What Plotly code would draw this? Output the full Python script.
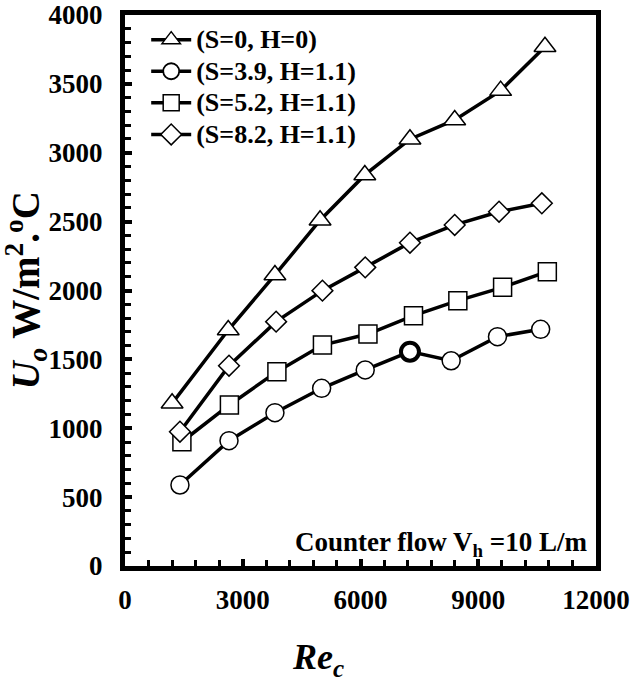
import plotly.graph_objects as go

# Data
re_s0 = [1200, 2630, 3820, 4970, 6110, 7260, 8400, 9570, 10700]
u_s0 = [1181, 1713, 2113, 2510, 2839, 3098, 3238, 3451, 3770]

re_s39 = [1400, 2650, 3820, 5010, 6120, 7260, 8310, 9490, 10590]
u_s39 = [588, 910, 1113, 1290, 1423, 1556, 1490, 1665, 1718]

re_s52 = [1450, 2660, 3870, 5030, 6190, 7350, 8480, 9620, 10760]
u_s52 = [902, 1169, 1411, 1604, 1684, 1817, 1926, 2023, 2137]

re_s82 = [1400, 2650, 3850, 5030, 6120, 7260, 8400, 9530, 10620]
u_s82 = [975, 1454, 1774, 1999, 2168, 2347, 2476, 2572, 2633]

names = ["(S=0, H=0)", "(S=3.9, H=1.1)", "(S=5.2, H=1.1)", "(S=8.2, H=1.1)"]
x_ticks = [0, 3000, 6000, 9000, 12000]
y_ticks = [0, 500, 1000, 1500, 2000, 2500, 3000, 3500, 4000]

FONT = "Liberation Serif"

fig = go.Figure()

series = [
    (re_s0, u_s0, "triangle-up", 19, 1.5),
    (re_s39, u_s39, "circle", 18, [1.5, 1.5, 1.5, 1.5, 1.5, 4, 1.5, 1.5, 1.5]),
    (re_s52, u_s52, "square", 18, 1.5),
    (re_s82, u_s82, "diamond", 16, 1.5),
]
for (xs, ys, sym, sz, lw), nm in zip(series, names):
    fig.add_trace(go.Scatter(
        x=xs, y=ys, mode="lines+markers",
        name='<span style="font-size:26px"><b>' + nm + "</b></span>",
        line=dict(color="black", width=3.5),
        marker=dict(symbol=sym, size=sz, color="white",
                    line=dict(color="black", width=lw)),
    ))

axis_common = dict(
    showgrid=False, zeroline=False, automargin=False,
    showline=True, linecolor="black", linewidth=5, mirror=True,
    ticks="inside", ticklen=7, tickwidth=3.5, tickcolor="black",
    tickfont=dict(family=FONT, size=27, color="black", weight="bold"),
)

fig.update_xaxes(
    range=[0, 12000], tickvals=x_ticks, ticktext=["<b>%d</b>" % v for v in x_ticks],
    minor=dict(dtick=600, ticks="inside", ticklen=6, tickwidth=3, tickcolor="black"),
    ticklabelstandoff=6,
    **axis_common,
)
fig.update_yaxes(
    range=[0, 4000], tickvals=y_ticks, ticktext=["<b>%d</b>" % v for v in y_ticks],
    minor=dict(dtick=100, ticks="inside", ticklen=6, tickwidth=3, tickcolor="black"),
    ticklabelstandoff=12,
    **axis_common,
)

fig.update_layout(
    width=637, height=691,
    margin=dict(l=125, r=41, t=15, b=125),
    paper_bgcolor="white", plot_bgcolor="white",
    showlegend=True,
    legend=dict(
        x=0.045, y=0.993, xanchor="left", yanchor="top",
        bgcolor="rgba(0,0,0,0)",
        font=dict(family=FONT, size=22, color="black", weight="bold"),
        itemwidth=40,
    ),
    annotations=[
        dict(text="<b>Counter flow V<sub>h</sub> =10 L/m</b>", xref="paper", yref="paper",
             x=0.985, y=0.04, xanchor="right", yanchor="middle", showarrow=False,
             font=dict(family=FONT, size=27, color="black", weight="bold")),
        dict(text="<b><i>U<sub>o</sub></i> W/m<sup>2</sup>.<sup>o</sup>C</b>",
             xref="paper", yref="paper", x=-0.21, y=0.5, textangle=-90,
             xanchor="center", yanchor="middle", showarrow=False,
             font=dict(family=FONT, size=39, color="black", weight="bold")),
        dict(text="<b><i>Re<sub>c</sub></i></b>", xref="paper", yref="paper",
             x=0.41, y=-0.17, xanchor="center", yanchor="middle", showarrow=False,
             font=dict(family=FONT, size=36, color="black", weight="bold")),
    ],
)

fig.write_html("out.html")
